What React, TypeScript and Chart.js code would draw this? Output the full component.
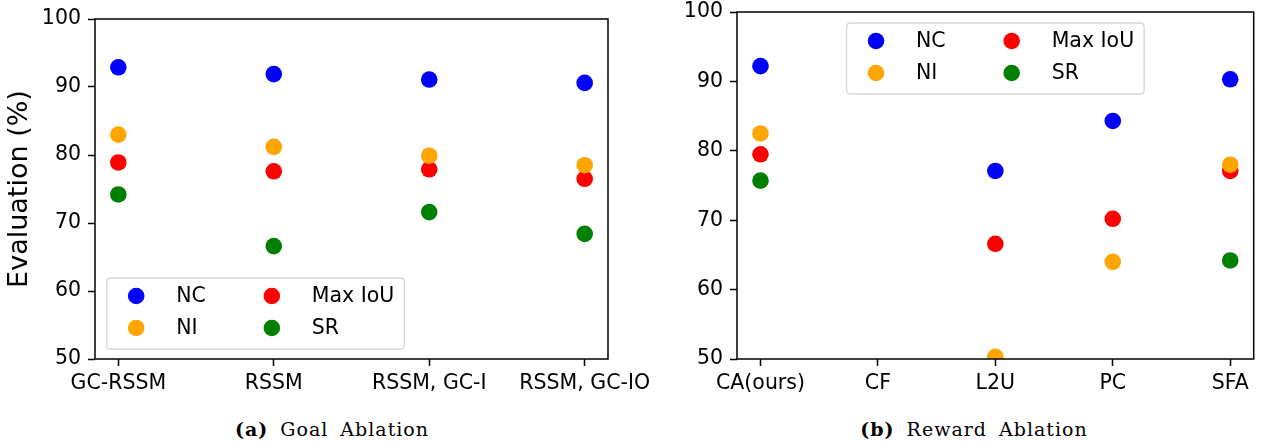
import React, { useEffect, useRef } from "react";
import { Chart, registerables } from "chart.js";

Chart.register(...registerables);

// ---- Data ----
const seriesNames = ["NC", "NI", "Max IoU", "SR"];
const seriesColors = ["#0000ff", "#ffa500", "#ff0000", "#008000"];

const goalCategories = ["GC-RSSM", "RSSM", "RSSM, GC-I", "RSSM, GC-IO"];
const goalNC = [92.9, 91.9, 91.1, 90.6];
const goalNI = [83.0, 81.2, 79.9, 78.5];
const goalMaxIoU = [78.9, 77.6, 77.9, 76.5];
const goalSR = [74.2, 66.6, 71.6, 68.4];

const rewardCategories = ["CA(ours)", "CF", "L2U", "PC", "SFA"];
const rewardNC: (number | null)[] = [92.2, null, 77.1, 84.3, 90.3];
const rewardNI: (number | null)[] = [82.5, null, 50.3, 64.0, 78.0];
const rewardMaxIoU: (number | null)[] = [79.5, null, 66.6, 70.2, 77.1];
const rewardSR: (number | null)[] = [75.7, null, null, null, 64.2];

const yTickMin = 50;
const yTickMax = 100;
const yTickStep = 10;

const yAxisTitle = "Evaluation (%)";
const captionA = { label: "(a)", text: "Goal Ablation" };
const captionB = { label: "(b)", text: "Reward Ablation" };

const SANS = "'DejaVu Sans', sans-serif";
const FONT_SIZE = 20.5;

function toPoints(values: (number | null)[]) {
  const pts: { x: number; y: number }[] = [];
  values.forEach((v, i) => {
    if (v !== null && v !== undefined) pts.push({ x: i, y: v });
  });
  return pts;
}

const framePlugin = {
  id: "frame",
  afterDatasetsDraw(chart: any) {
    const { ctx, chartArea } = chart;
    ctx.save();
    ctx.strokeStyle = "#000";
    ctx.lineWidth = 1.5;
    ctx.strokeRect(chartArea.left, chartArea.top, chartArea.right - chartArea.left, chartArea.bottom - chartArea.top);
    ctx.restore();
  },
};

const mplLegendPlugin = {
  id: "mplLegend",
  afterDraw(chart: any, _args: any, opts: any) {
    const { ctx, chartArea } = chart;
    const ds = chart.data.datasets;
    ctx.save();
    ctx.font = `${FONT_SIZE}px ${SANS}`;
    const col1 = [ds[0], ds[1]];
    const col2 = [ds[2], ds[3]];
    const w1 = Math.max(...col1.map((d: any) => ctx.measureText(d.label).width));
    const w2 = Math.max(...col2.map((d: any) => ctx.measureText(d.label).width));
    const markerPad = 29.5;
    const textOff = 40;
    const colGap = 66;
    const height = 71;
    const col2Marker = markerPad + textOff + w1 + colGap;
    const width = col2Marker + textOff + w2 + 10;
    let left: number, top: number;
    if (opts.position === "upper center") {
      left = (chartArea.left + chartArea.right) / 2 - width / 2;
      top = chartArea.top + 11;
    } else {
      left = chartArea.left + 11.7;
      top = chartArea.bottom - 10 - height;
    }
    const r = 4;
    ctx.beginPath();
    ctx.moveTo(left + r, top);
    ctx.lineTo(left + width - r, top);
    ctx.quadraticCurveTo(left + width, top, left + width, top + r);
    ctx.lineTo(left + width, top + height - r);
    ctx.quadraticCurveTo(left + width, top + height, left + width - r, top + height);
    ctx.lineTo(left + r, top + height);
    ctx.quadraticCurveTo(left, top + height, left, top + height - r);
    ctx.lineTo(left, top + r);
    ctx.quadraticCurveTo(left, top, left + r, top);
    ctx.closePath();
    ctx.fillStyle = "rgba(255,255,255,0.8)";
    ctx.fill();
    ctx.strokeStyle = "#d6d6d6";
    ctx.lineWidth = 1.3;
    ctx.stroke();

    const rows = [top + 18, top + 50];
    const cols = [left + markerPad, left + col2Marker];
    ds.forEach((d: any, i: number) => {
      const cx = cols[Math.floor(i / 2)];
      const cy = rows[i % 2];
      ctx.beginPath();
      ctx.arc(cx, cy, 8.3, 0, Math.PI * 2);
      ctx.fillStyle = d.backgroundColor;
      ctx.fill();
      ctx.fillStyle = "#000";
      ctx.textBaseline = "middle";
      ctx.textAlign = "left";
      ctx.fillText(d.label, cx + textOff, cy + 1);
    });
    ctx.restore();
  },
};

function buildConfig(
  categories: string[],
  series: (number | null)[][],
  opts: { yWidth: number; padTop: number; padRight: number; showTitle: boolean; legendPos: string }
) {
  const n = categories.length;
  const margin = (n - 1) * 0.05;
  return {
    type: "scatter" as const,
    data: {
      datasets: series.map((vals, i) => ({
        label: seriesNames[i],
        data: toPoints(vals),
        backgroundColor: seriesColors[i],
        pointBackgroundColor: seriesColors[i],
        pointBorderWidth: 0,
        pointRadius: 8.3,
        pointHoverRadius: 8.3,
        clip: 0,
      })),
    },
    options: {
      responsive: false,
      animation: false as const,
      events: [],
      layout: { padding: { top: opts.padTop, right: opts.padRight, left: 0, bottom: 0 } },
      plugins: {
        legend: { display: false },
        tooltip: { enabled: false },
        mplLegend: { position: opts.legendPos },
      },
      scales: {
        x: {
          type: "linear" as const,
          min: -margin,
          max: n - 1 + margin,
          afterBuildTicks(scale: any) {
            scale.ticks = categories.map((_, i) => ({ value: i }));
          },
          afterFit(scale: any) {
            scale.height = 41;
            scale.paddingLeft = 0;
            scale.paddingRight = 0;
          },
          ticks: {
            autoSkip: false,
            maxRotation: 0,
            padding: 5,
            color: "#000",
            font: { family: SANS, size: FONT_SIZE },
            callback: (v: any) => categories[Math.round(v)] ?? "",
          },
          grid: { drawOnChartArea: false, drawTicks: true, tickLength: 7, tickColor: "#000", tickWidth: 1.5 },
          border: { display: false },
        },
        y: {
          type: "linear" as const,
          min: yTickMin,
          max: yTickMax,
          afterFit(scale: any) {
            scale.width = opts.yWidth;
            scale.paddingTop = 0;
            scale.paddingBottom = 0;
          },
          ticks: {
            stepSize: yTickStep,
            padding: 7,
            color: "#000",
            font: { family: SANS, size: FONT_SIZE },
          },
          title: {
            display: opts.showTitle,
            text: yAxisTitle,
            color: "#000",
            font: { family: SANS, size: 27 },
            padding: { top: 4, bottom: 0 },
          },
          grid: { drawOnChartArea: false, drawTicks: true, tickLength: 7, tickColor: "#000", tickWidth: 1.5 },
          border: { display: false },
        },
      },
    },
    plugins: [framePlugin, mplLegendPlugin],
  };
}

function ScatterPanel(props: {
  categories: string[];
  series: (number | null)[][];
  left: number;
  width: number;
  yWidth: number;
  padTop: number;
  padRight: number;
  showTitle: boolean;
  legendPos: string;
}) {
  const ref = useRef<HTMLCanvasElement | null>(null);
  useEffect(() => {
    if (!ref.current) return;
    const chart = new Chart(
      ref.current,
      buildConfig(props.categories, props.series, {
        yWidth: props.yWidth,
        padTop: props.padTop,
        padRight: props.padRight,
        showTitle: props.showTitle,
        legendPos: props.legendPos,
      }) as any
    );
    return () => chart.destroy();
  }, []);
  return (
    <canvas
      ref={ref}
      width={props.width}
      height={400}
      style={{ position: "absolute", left: props.left, top: 0, width: props.width, height: 400, display: "block" }}
    />
  );
}

function Caption(props: { label: string; text: string; center: number }) {
  return (
    <div
      style={{
        position: "absolute",
        left: props.center - 200,
        width: 400,
        top: 417,
        textAlign: "center",
        fontFamily: "'DejaVu Serif', serif",
        fontSize: 19,
        letterSpacing: 1,
        wordSpacing: 5,
        color: "#000",
        whiteSpace: "nowrap",
        lineHeight: "24px",
      }}
    >
      <span style={{ fontWeight: "bold" }}>{props.label}</span> {props.text}
    </div>
  );
}

export default function App() {
  return (
    <div style={{ position: "absolute", left: 0, top: 0, width: 1262, height: 443, background: "#fff", overflow: "hidden" }}>
      <ScatterPanel
        categories={goalCategories}
        series={[goalNC, goalNI, goalMaxIoU, goalSR]}
        left={0}
        width={670}
        yWidth={95}
        padTop={19}
        padRight={62}
        showTitle={true}
        legendPos="lower left"
      />
      <ScatterPanel
        categories={rewardCategories}
        series={[rewardNC, rewardNI, rewardMaxIoU, rewardSR]}
        left={640}
        width={622}
        yWidth={97}
        padTop={12}
        padRight={2}
        showTitle={false}
        legendPos="upper center"
      />
      <Caption label={captionA.label} text={captionA.text} center={332} />
      <Caption label={captionB.label} text={captionB.text} center={974} />
    </div>
  );
}
